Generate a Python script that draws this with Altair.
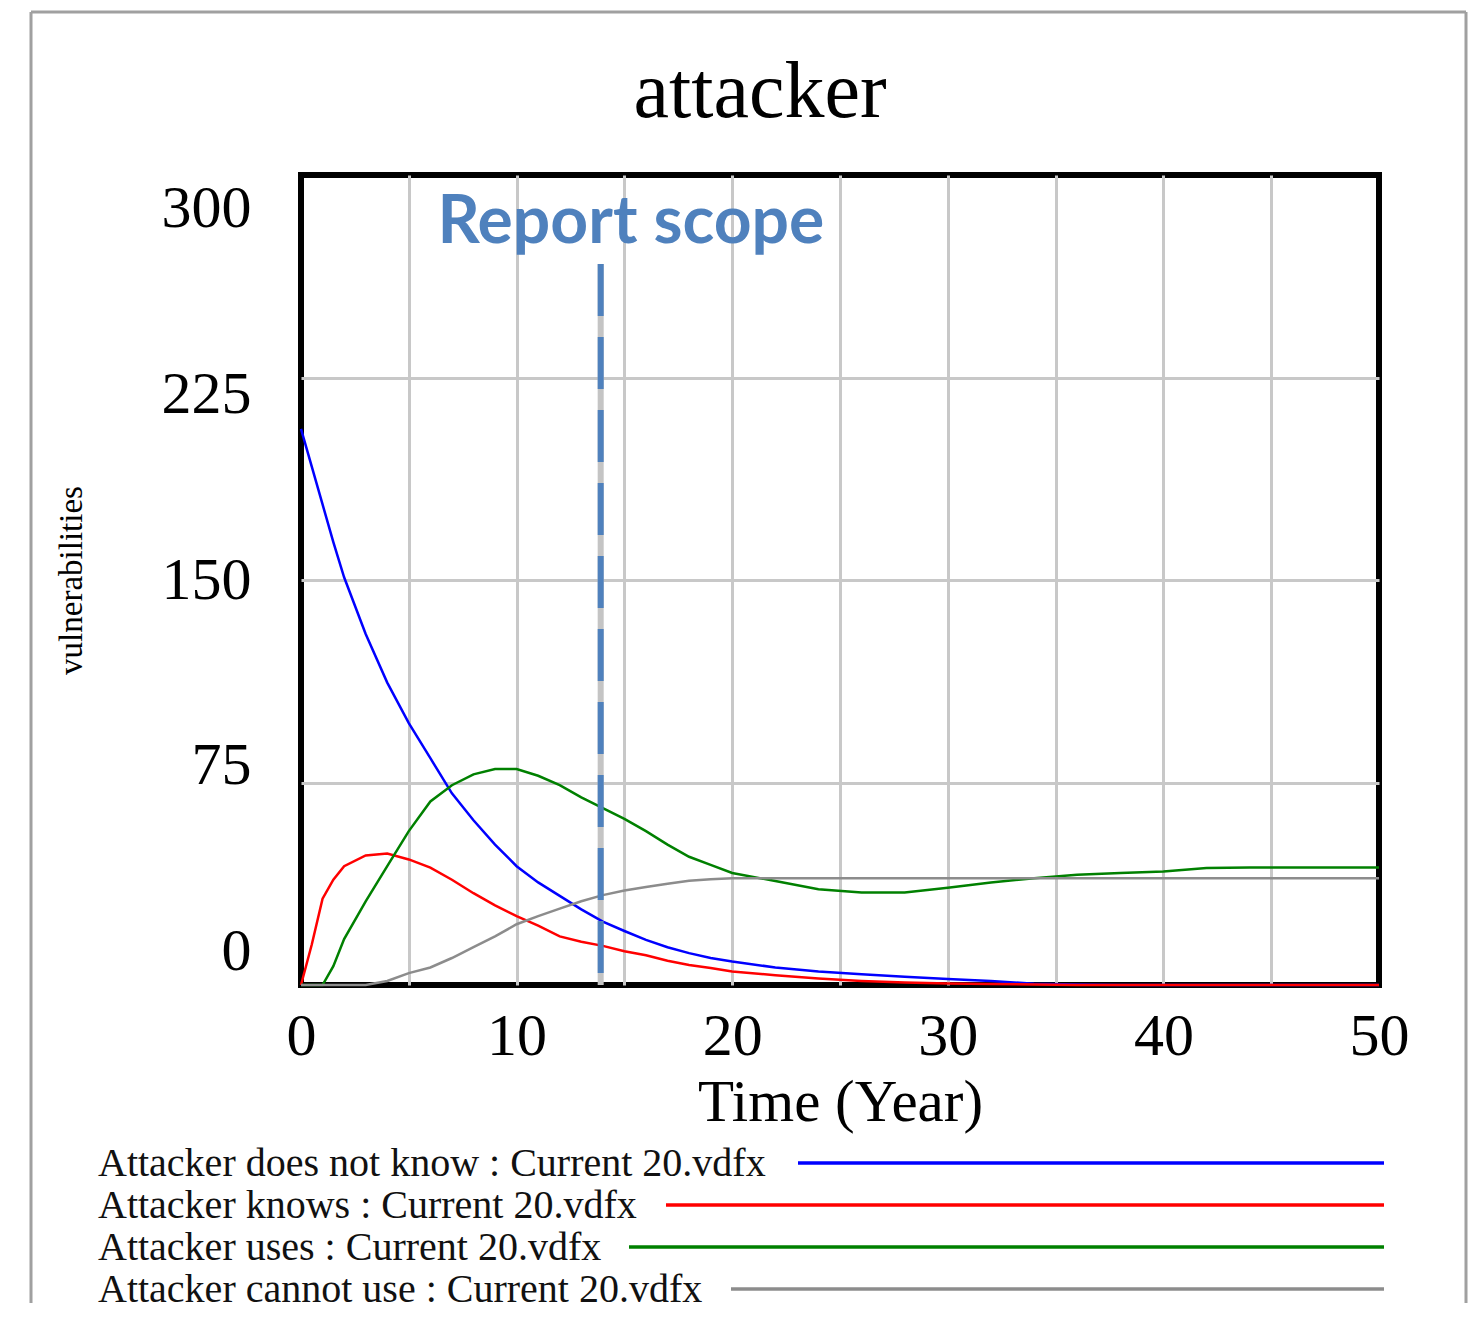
import altair as alt
import pandas as pd

# ---------------- data ----------------
title_text = "attacker"
x_title = "Time (Year)"
y_title = "vulnerabilities"
annotation_text = "Report scope"
run_name = "Current 20.vdfx"

report_scope_year = 13.9
report_line_top = 267
annotation_x = 15.3
annotation_y = 275

x_ticks = [0, 5, 10, 15, 20, 25, 30, 35, 40, 45, 50]
y_ticks = [0, 75, 150, 225, 300]

years = [0, 0.5, 1, 1.5, 2, 3, 4, 5, 6, 7, 8, 9, 10, 11, 12, 13, 14, 15, 16, 17,
         18, 19, 20, 22, 24, 26, 28, 30, 32, 34, 36, 38, 40, 42, 44, 46, 48, 50]

does_not_know = [206, 192, 178, 164, 151,
                 130, 112, 97, 84, 71, 61, 52, 44, 38, 33, 28, 23.5, 20, 16.7, 14, 11.8, 10, 8.7,
                 6.5, 5, 4, 3.1, 2.2, 1.5, 0.5, 0.2, 0, 0, 0, 0, 0, 0, 0]
knows = [0, 15, 32, 39, 44,
         48, 48.7, 46.5, 43.5, 39, 34, 29.5, 25.5, 22, 18, 16, 14.5, 12.5, 11, 9, 7.4, 6.3, 5.0,
         3.6, 2.4, 1.5, 0.9, 0.6, 0.4, 0.2, 0, 0, 0, 0, 0, 0, 0, 0]
uses = [0, 0, 0, 7, 17,
        31, 44, 57, 68, 74, 78, 80, 80, 77.5, 74, 69.5, 65.5, 61.5, 57, 52, 47.5, 44.5, 41.5,
        38.5, 35.5, 34.3, 34.3, 36, 38, 39.5, 40.8, 41.5, 42, 43.3, 43.5, 43.5, 43.5, 43.5]
cannot_use = [0, 0, 0, 0, 0,
              0, 1.5, 4.4, 6.5, 10, 14, 18, 22.5, 25.5, 28.3, 31, 33.3, 35, 36.3, 37.5, 38.6, 39.2, 39.5,
              39.5, 39.5, 39.5, 39.5, 39.5, 39.5, 39.5, 39.5, 39.5, 39.5, 39.5, 39.5, 39.5, 39.5, 39.5]

series_names = ["Attacker does not know", "Attacker knows", "Attacker uses", "Attacker cannot use"]
series_values = [does_not_know, knows, uses, cannot_use]
series_colors = ["#0000ff", "#ff0000", "#008000", "#8c8c8c"]

rows = []
for name, vals in zip(series_names, series_values):
    for t, v in zip(years, vals):
        rows.append({"year": t, "value": v, "series": name})
df = pd.DataFrame(rows)

# ---------------- layout / style constants (pixels, relative to plot area) ----------------
PLOT_W, PLOT_H = 1078, 810
serif = "Liberation Serif"
title_x, title_y = 459, -58
legend_text_x = -203
legend_text_y = [1001, 1043, 1085, 1127]
legend_line_y = [988, 1030, 1072, 1114]
legend_line_x0 = [497, 365, 328, 430]
legend_line_x1 = 1083
border_left, border_top, border_right, border_bottom = -270, -163, 1165, 1128

x_scale = alt.Scale(domain=[0, 50], nice=False)
y_scale = alt.Scale(domain=[0, 300], nice=False)

x_axis = alt.Axis(
    values=x_ticks,
    labelExpr="datum.value % 10 == 0 ? datum.label : ''",
    grid=True, gridColor="#c8c8c8", gridWidth=3,
    gridOpacity={"condition": {"test": "datum.value == 0 || datum.value == 50", "value": 0}, "value": 1},
    domain=False, ticks=False, tickSize=0,
    labelFont=serif, labelFontSize=60, labelColor="#000000", labelPadding=22,
    labelFlush=False,
    title=x_title, titleFont=serif, titleFontSize=59, titleFontWeight="normal",
    titleColor="#000000", titleX=539, titleY=135, titleAlign="center",
    titleBaseline="alphabetic",
)
y_axis = alt.Axis(
    values=y_ticks,
    grid=True, gridColor="#c8c8c8", gridWidth=3,
    gridOpacity={"condition": {"test": "datum.value == 0 || datum.value == 300", "value": 0}, "value": 1},
    domain=False, ticks=False, tickSize=0,
    labelFont=serif, labelFontSize=60, labelColor="#000000", labelPadding=50,
    labelOffset={"expr": "(datum.value - 150) * 0.225"},
    labelFlush=False,
    title=y_title, titleFont=serif, titleFontSize=33, titleFontWeight="normal",
    titleColor="#000000", titleX=-230, titleY=405, titleAngle=270,
    titleAlign="center", titleBaseline="middle",
)

lines = alt.Chart(df).mark_line(strokeWidth=2.5).encode(
    x=alt.X("year:Q", scale=x_scale, axis=x_axis),
    y=alt.Y("value:Q", scale=y_scale, axis=y_axis),
    color=alt.Color("series:N", scale=alt.Scale(domain=series_names, range=series_colors), legend=None),
    detail="series:N",
)

ann_df = pd.DataFrame({"year": [report_scope_year], "value": [report_line_top], "value_end": [0]})
gap_rule = alt.Chart(ann_df).mark_rule(color="#c4c4c4", strokeWidth=6).encode(
    x=alt.X("year:Q", scale=x_scale), y=alt.Y("value:Q", scale=y_scale), y2="value_end:Q")
dash_rule = alt.Chart(ann_df).mark_rule(color="#4f81bd", strokeWidth=6, strokeDash=[52, 21]).encode(
    x=alt.X("year:Q", scale=x_scale), y=alt.Y("value:Q", scale=y_scale), y2="value_end:Q")

label_df = pd.DataFrame({"year": [annotation_x], "value": [annotation_y], "text": [annotation_text]})
label = alt.Chart(label_df).mark_text(
    font="Lato", fontWeight="bold", fontSize=66, color="#4f81bd",
    align="center", baseline="alphabetic").encode(
    x=alt.X("year:Q", scale=x_scale), y=alt.Y("value:Q", scale=y_scale), text="text:N")

title_mark = alt.Chart(pd.DataFrame({"t": [title_text]})).mark_text(
    font=serif, fontSize=80, color="#000000", align="center", baseline="alphabetic").encode(
    x=alt.value(title_x), y=alt.value(title_y), text="t:N")

layers = [gap_rule, lines, dash_rule, label, title_mark]

# legend rows (text followed by a long line sample)
for i, (name, color) in enumerate(zip(series_names, series_colors)):
    ldf = pd.DataFrame({"label": [f"{name} : {run_name}"]})
    layers.append(alt.Chart(ldf).mark_text(
        font=serif, fontSize=40, color="#111111", align="left", baseline="alphabetic").encode(
        x=alt.value(legend_text_x), y=alt.value(legend_text_y[i]), text="label:N"))
    layers.append(alt.Chart(ldf).mark_rule(color=color, strokeWidth=3.5).encode(
        x=alt.value(legend_line_x0[i]), x2=alt.value(legend_line_x1), y=alt.value(legend_line_y[i])))

# outer gray frame
bdf = pd.DataFrame({"k": [0]})
layers.append(alt.Chart(bdf).mark_rule(color="#a0a0a0", strokeWidth=3).encode(
    x=alt.value(border_left), y=alt.value(border_top), y2=alt.value(border_bottom)))
layers.append(alt.Chart(bdf).mark_rule(color="#a0a0a0", strokeWidth=3).encode(
    x=alt.value(border_left), x2=alt.value(border_right), y=alt.value(border_top)))
layers.append(alt.Chart(bdf).mark_rule(color="#a0a0a0", strokeWidth=3).encode(
    x=alt.value(border_right), y=alt.value(border_top), y2=alt.value(border_bottom)))

chart = alt.layer(*layers).properties(
    width=PLOT_W, height=PLOT_H,
    padding={"left": 21, "top": 2, "right": 0, "bottom": 0},
    background="white",
).configure_view(stroke="#000000", strokeWidth=6)

chart.save("out.html", embed_options={"renderer": "svg", "actions": False})
